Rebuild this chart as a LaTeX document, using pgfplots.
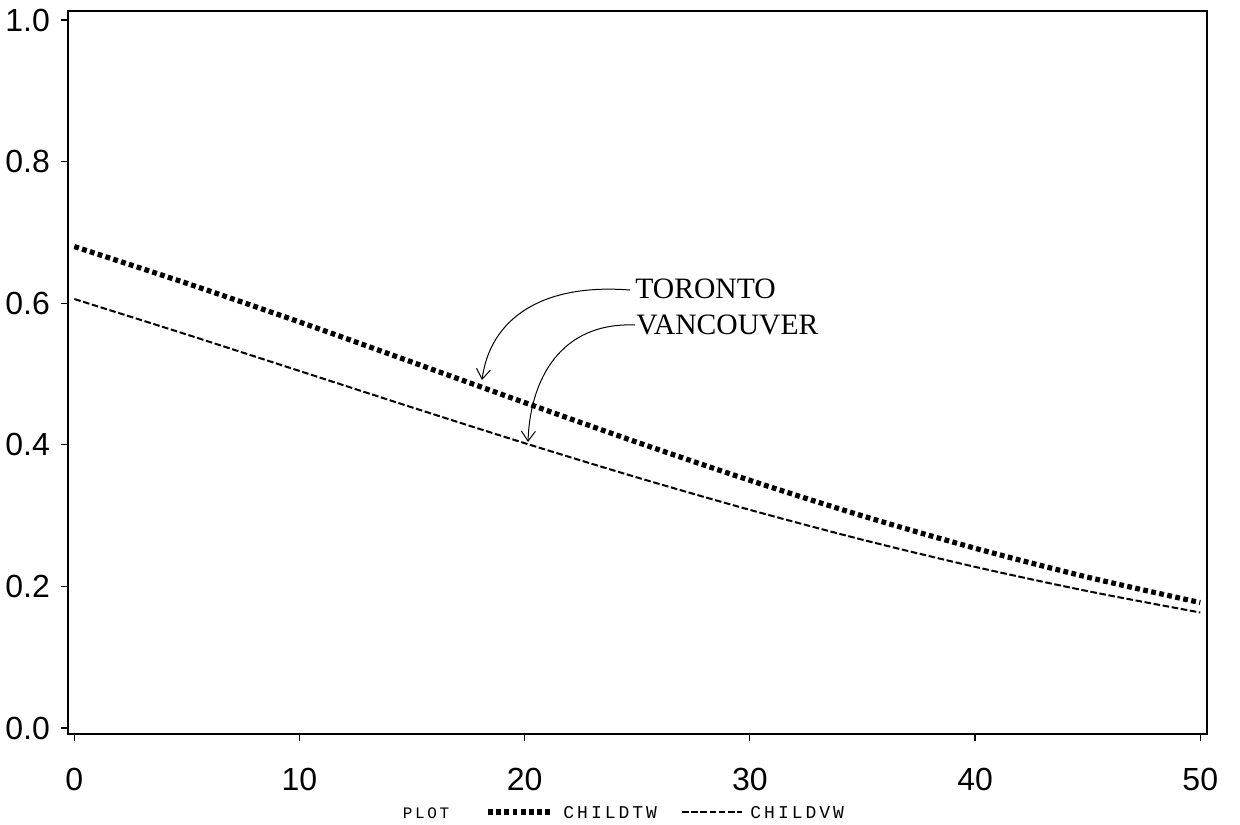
\documentclass[border=0pt]{standalone}
\usepackage{fontspec}
\setmainfont{Liberation Sans}
\newfontfamily\seriffont{Liberation Serif}
\newfontfamily\monofont{Liberation Mono}
\usepackage{pgfplots}
\pgfplotsset{compat=1.18}
\usetikzlibrary{arrows.meta}
\begin{document}
\begin{tikzpicture}
\begin{axis}[at={(34pt,-367pt)}, anchor=south west, scale only axis,
  width=569.5pt, height=361.5pt,
  xmin=-0.28, xmax=50.3, ymin=-0.0085, ymax=1.0127,
  xtick={0,10,20,30,40,50}, ytick={0,0.2,0.4,0.6,0.8,1.0},
  xtick pos=bottom, ytick pos=left,
  yticklabel style={/pgf/number format/fixed, /pgf/number format/fixed zerofill, /pgf/number format/precision=1},
  /pgf/number format/assume math mode=true,
  tick align=outside, major tick length=3.5pt,
  tick style={black, line width=0.6pt},
  axis line style={line width=0.6pt},
  ticklabel style={font=\fontsize{16}{18}\selectfont},
  xticklabel style={yshift=-10pt},
  yticklabel style={xshift=-2pt},
  clip=false]
\addplot[black, line width=2.6pt, dash pattern=on 2.4pt off 1.7pt, smooth] coordinates {
(0,0.680) (5,0.628) (10,0.5735) (15,0.5167) (20,0.4596) (25,0.4035)
(30,0.3498) (35,0.2996) (40,0.2539) (45,0.2130) (50,0.1771)};
\addplot[black, line width=1pt, dash pattern=on 3.3pt off 1.3pt, smooth] coordinates {
(0,0.6059) (5,0.5557) (10,0.5043) (15,0.4528) (20,0.4023) (25,0.3538)
(30,0.3081) (35,0.2659) (40,0.2276) (45,0.1933) (50,0.1631)};
\end{axis}
\begin{scope}[x=0.5pt, y=-0.5pt]
\node[anchor=west, inner sep=0pt, font=\seriffont\fontsize{14.8}{16}\selectfont] at (635,289) {TORONTO};
\node[anchor=west, inner sep=0pt, font=\seriffont\fontsize{14.8}{16}\selectfont] at (636,325) {VANCOUVER};
\draw[line width=0.5pt, -{Straight Barb[length=5pt,width=7pt]}] (630,290) .. controls (540,283) and (490,320) .. (482,380);
\draw[line width=0.5pt, -{Straight Barb[length=5pt,width=7pt]}] (635,325) .. controls (560,322) and (530,380) .. (528,442);
\node[font=\monofont\fontsize{8}{10}\selectfont] at (426,813) {P\,L\,O\,T};
\draw[black, line width=2.6pt, dash pattern=on 2.4pt off 1.7pt] (488,812) -- (552,812);
\node[anchor=west, inner sep=0pt, font=\monofont\fontsize{9}{10}\selectfont] at (563,813) {C\,H\,I\,L\,D\,T\,W};
\draw[black, line width=1pt, dash pattern=on 3.3pt off 1.3pt] (682,812) -- (742,812);
\node[anchor=west, inner sep=0pt, font=\monofont\fontsize{9}{10}\selectfont] at (750,813) {C\,H\,I\,L\,D\,V\,W};
\end{scope}
\pgfresetboundingbox
\path (0,0) rectangle (620pt,-412pt);
\end{tikzpicture}
\end{document}
